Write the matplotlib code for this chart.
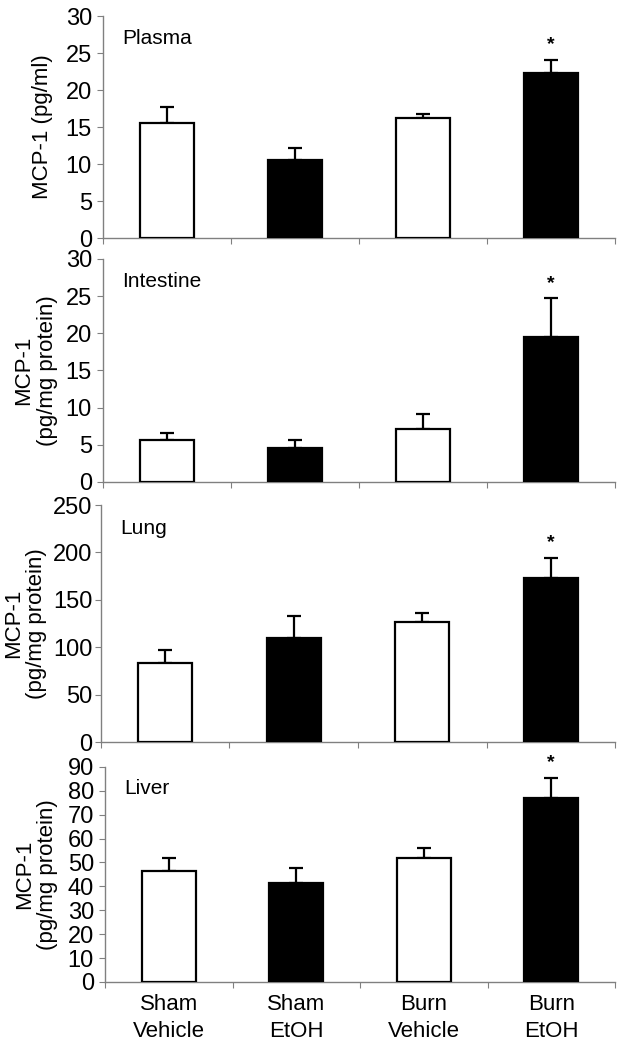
import numpy as np
import matplotlib.pyplot as plt

plt.rcParams['font.family'] = ['Liberation Sans', 'DejaVu Sans']

groups = ['Sham\nVehicle', 'Sham\nEtOH', 'Burn\nVehicle', 'Burn\nEtOH']
bar_colors = ['white', 'black', 'white', 'black']

tissues = ['Plasma', 'Intestine', 'Lung', 'Liver']
ylabels = ['MCP-1 (pg/ml)', 'MCP-1\n(pg/mg protein)', 'MCP-1\n(pg/mg protein)', 'MCP-1\n(pg/mg protein)']

plasma_mean = [15.5, 10.5, 16.2, 22.3]
plasma_err = [2.2, 1.7, 0.5, 1.8]
intestine_mean = [5.6, 4.5, 7.1, 19.5]
intestine_err = [1.0, 1.1, 2.1, 5.2]
lung_mean = [83.5, 110.2, 126.6, 172.9]
lung_err = [13.6, 22.4, 9.4, 21.4]
liver_mean = [46.4, 41.5, 51.7, 77.0]
liver_err = [5.4, 6.3, 4.5, 8.5]

means = [plasma_mean, intestine_mean, lung_mean, liver_mean]
errs = [plasma_err, intestine_err, lung_err, liver_err]
ymaxs = [30, 30, 250, 90]
ysteps = [5, 5, 50, 10]

# axes boxes in figure fraction (left, bottom, width, height)
boxes = [(0.1643, 0.7733, 0.8166, 0.2114),
         (0.1643, 0.5410, 0.8166, 0.2124),
         (0.1610, 0.2933, 0.8199, 0.2257),
         (0.1675, 0.0648, 0.8134, 0.2048)]
ylab_x = [-0.098, -0.088, -0.104, -0.092]

fig = plt.figure(figsize=(6.27, 10.5), dpi=100)
grey = '#808080'

for k in range(4):
    ax = fig.add_axes(boxes[k])
    x = np.arange(len(groups)) + 0.5
    ax.bar(x, means[k], width=0.42, color=bar_colors, edgecolor='black', linewidth=1.6, zorder=3)
    ax.errorbar(x, means[k], yerr=[np.zeros(4), errs[k]], fmt='none', ecolor='black',
                elinewidth=1.6, capsize=5, capthick=1.6, zorder=2)
    top = means[k][3] + errs[k][3]
    ax.text(x[3], top + ymaxs[k] * 0.03, '*', ha='center', va='bottom', fontsize=14,
            fontweight='bold')

    ax.set_xlim(0, 4)
    ax.set_ylim(0, ymaxs[k])
    ax.set_yticks(np.arange(0, ymaxs[k] + 1, ysteps[k]))
    ax.set_xticks([0, 1, 2, 3, 4])
    ax.set_xticklabels([])
    if k == 3:
        ax.set_xticks(x, minor=True)
        ax.set_xticklabels(groups, minor=True, fontsize=16, linespacing=1.35)
        ax.tick_params(axis='x', which='minor', length=0, pad=9)
    for s in ['top', 'right']:
        ax.spines[s].set_visible(False)
    for s in ['left', 'bottom']:
        ax.spines[s].set_color(grey)
        ax.spines[s].set_linewidth(1.0)
    ax.tick_params(axis='y', direction='out', length=4, color=grey, labelsize=17,
                   pad=2 if k == 2 else 4)
    ax.tick_params(axis='x', which='major', direction='out', length=4, color=grey)
    ax.set_ylabel(ylabels[k], fontsize=16, linespacing=1.15)
    ax.yaxis.set_label_coords(ylab_x[k], 0.5)
    ax.text(0.037, 0.9, tissues[k], transform=ax.transAxes, fontsize=15, ha='left', va='center')

fig.savefig('out.png', dpi=100)
